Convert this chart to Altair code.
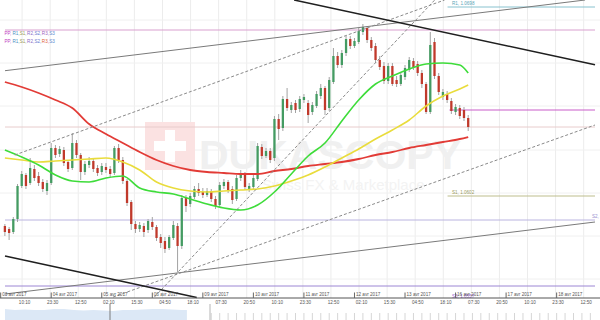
import altair as alt
import pandas as pd

# ---------------- data (time = trading hours since 03 avr 2017 00:00) ----------------
candle_hours = list(range(2, 223, 2))

open_ = [1.0587, 1.05855, 1.0584, 1.05905, 1.0607, 1.06125, 1.06085, 1.06155, 1.0612, 1.0609,
         1.06045, 1.06085, 1.0626, 1.0623, 1.0625, 1.0619, 1.0616, 1.06285, 1.06225, 1.0614,
         1.06175, 1.06195, 1.0616, 1.0614, 1.06165, 1.06155, 1.06135, 1.0626, 1.0620, 1.06095,
         1.0599, 1.0588, 1.05855, 1.0587, 1.0585, 1.0589, 1.05865, 1.05815, 1.05795, 1.0576,
         1.0581, 1.0587, 1.0577, 1.0601, 1.0598, 1.06015, 1.06055, 1.0604, 1.06025, 1.06045,
         1.06005, 1.05975, 1.0607, 1.0609, 1.06055, 1.06005, 1.0611, 1.06125, 1.06055, 1.06065,
         1.06105, 1.06265, 1.0622, 1.06245, 1.0621, 1.06405, 1.0636, 1.06505, 1.0645, 1.06485,
         1.06455, 1.0650, 1.06485, 1.0644, 1.0647, 1.0652, 1.0656, 1.0646, 1.0659, 1.0672,
         1.06675, 1.06735, 1.06805, 1.0677, 1.0679, 1.0684, 1.0686, 1.0680, 1.0677, 1.0670,
         1.0667, 1.06595, 1.0667, 1.0660, 1.0658, 1.06615, 1.0665, 1.06695, 1.0668, 1.06635,
         1.0658, 1.0644, 1.0679, 1.0662, 1.06515, 1.0653, 1.06495, 1.0644, 1.0646, 1.0645,
         1.0641]
high = [1.0588, 1.05865, 1.05915, 1.0608, 1.06145, 1.06135, 1.0621, 1.06175, 1.0614, 1.06105,
        1.0610, 1.06285, 1.06275, 1.0627, 1.06265, 1.0620, 1.06335, 1.0630, 1.06235, 1.06195,
        1.06215, 1.0621, 1.06175, 1.06185, 1.06185, 1.0617, 1.0627, 1.0628, 1.06215, 1.06105,
        1.0600, 1.05895, 1.0589, 1.05885, 1.05905, 1.05915, 1.05875, 1.0583, 1.05815, 1.05825,
        1.05895, 1.05885, 1.06025, 1.06025, 1.06035, 1.0607, 1.06085, 1.0606, 1.0606, 1.06055,
        1.0602, 1.0609, 1.06105, 1.0610, 1.0607, 1.06125, 1.0615, 1.0614, 1.06085, 1.06125,
        1.06285, 1.0628, 1.0626, 1.0626, 1.0642, 1.0643, 1.0652, 1.0656, 1.0649, 1.0650,
        1.0652, 1.0653, 1.0650, 1.0649, 1.06545, 1.0658, 1.0657, 1.06615, 1.0676, 1.0674,
        1.0675, 1.0682, 1.0682, 1.0681, 1.0686, 1.0688, 1.0687, 1.06815, 1.06785, 1.0672,
        1.0669, 1.06685, 1.06685, 1.0662, 1.0664, 1.06675, 1.06715, 1.0671, 1.06695, 1.0665,
        1.0659, 1.0684, 1.0681, 1.06635, 1.06555, 1.06545, 1.0651, 1.0648, 1.06475, 1.06465,
        1.06425]
low = [1.0582, 1.0580, 1.0583, 1.0589, 1.0606, 1.06055, 1.06075, 1.06095, 1.0607, 1.0604,
       1.06025, 1.06075, 1.0621, 1.06215, 1.0617, 1.0614, 1.0615, 1.0621, 1.0610, 1.06125,
       1.0616, 1.0614, 1.0612, 1.06125, 1.06135, 1.06115, 1.06125, 1.06185, 1.0608, 1.0597,
       1.0585, 1.05835, 1.0584, 1.05815, 1.05835, 1.0585, 1.05795, 1.0576, 1.05735, 1.0575,
       1.0580, 1.0564, 1.05755, 1.0594, 1.05965, 1.06005, 1.0602, 1.0601, 1.06015, 1.0599,
       1.05955, 1.05965, 1.06055, 1.06035, 1.0598, 1.05995, 1.06095, 1.0605, 1.0604, 1.0605,
       1.06095, 1.06205, 1.0621, 1.06185, 1.06195, 1.0630, 1.06345, 1.06445, 1.06435, 1.06435,
       1.0644, 1.06485, 1.06385, 1.06425, 1.0646, 1.06505, 1.06425, 1.06445, 1.0658, 1.0666,
       1.0666, 1.0672, 1.06755, 1.0676, 1.0678, 1.06825, 1.06785, 1.06745, 1.06685, 1.0665,
       1.0658, 1.0658, 1.0657, 1.06565, 1.0657, 1.0660, 1.0664, 1.0665, 1.0662, 1.0656,
       1.0643, 1.0643, 1.06605, 1.06525, 1.0650, 1.06485, 1.0643, 1.06425, 1.06405, 1.06395,
       1.06345]
close = [1.0584, 1.05835, 1.05905, 1.0607, 1.0613, 1.0607, 1.0616, 1.0611, 1.06085, 1.06055,
         1.06085, 1.0626, 1.06225, 1.06255, 1.06185, 1.06155, 1.06285, 1.06225, 1.0614, 1.0618,
         1.06195, 1.06155, 1.06135, 1.0617, 1.0615, 1.0613, 1.0626, 1.0620, 1.06095, 1.05985,
         1.0588, 1.05855, 1.05875, 1.0584, 1.05895, 1.05865, 1.0581, 1.05785, 1.05755, 1.05815,
         1.05875, 1.0577, 1.0601, 1.0597, 1.0602, 1.06055, 1.06035, 1.06025, 1.06045, 1.06005,
         1.0597, 1.06075, 1.0609, 1.0605, 1.0600, 1.0611, 1.0613, 1.06065, 1.0607, 1.0611,
         1.0627, 1.0622, 1.06245, 1.0620, 1.06405, 1.06355, 1.06505, 1.0646, 1.06475, 1.0645,
         1.06505, 1.06515, 1.06425, 1.06475, 1.0653, 1.0656, 1.0645, 1.0660, 1.0672, 1.06675,
         1.06735, 1.06805, 1.0677, 1.06795, 1.06845, 1.06865, 1.0680, 1.0676, 1.0670, 1.06665,
         1.06595, 1.0667, 1.0658, 1.0658, 1.06625, 1.0666, 1.0670, 1.06665, 1.06635, 1.0658,
         1.0644, 1.06775, 1.0662, 1.0654, 1.0654, 1.0650, 1.06445, 1.06465, 1.0642, 1.0641,
         1.06365]

ma_hours = list(range(2, 219, 8)) + [222]
ma_slow = [1.0659, 1.06565, 1.06535, 1.0650, 1.0646, 1.0638, 1.0633, 1.06285, 1.0624, 1.0620,
           1.0617, 1.0615, 1.0614, 1.06135, 1.0613, 1.0613, 1.06145, 1.06155, 1.0617, 1.0618,
           1.0619, 1.06205, 1.06225, 1.0624, 1.0626, 1.06275, 1.0629, 1.06305, 1.06315]
ma_mid = [1.0621, 1.0620, 1.0619, 1.06195, 1.0620, 1.06205, 1.0621, 1.0619, 1.0615, 1.0609,
          1.0606, 1.06045, 1.0604, 1.06045, 1.0605, 1.06055, 1.0607, 1.06095, 1.06125, 1.06165,
          1.0621, 1.06255, 1.06305, 1.0635, 1.0640, 1.0647, 1.0652, 1.06555, 1.06575]
ma_fast = [1.0625, 1.06215, 1.06175, 1.06125, 1.06095, 1.0609, 1.0611, 1.0612, 1.0606, 1.0604,
           1.0603, 1.06005, 1.0598, 1.0596, 1.0595, 1.05975, 1.0604, 1.0613, 1.0622, 1.06285,
           1.06395, 1.0650, 1.0658, 1.0662, 1.06655, 1.0668, 1.06685, 1.06675, 1.06635]

date_hours = [0, 24, 48, 72, 96, 120, 144, 168, 192, 216, 240, 264]
date_labels = ["03 avr 2017", "04 avr 2017", "05 avr 2017", "06 avr 2017", "09 avr 2017",
               "10 avr 2017", "11 avr 2017", "12 avr 2017", "13 avr 2017", "16 avr 2017",
               "17 avr 2017", "18 avr 2017"]
time_hours = [10.17, 23.5, 36.83, 50.17, 63.5, 76.83, 90.17, 103.5, 116.83, 130.17, 143.5,
              156.83, 170.17, 183.5, 196.83, 210.17, 223.5, 236.83, 250.17, 263.5, 276.83]
time_labels = ["10:10", "23:30", "12:50", "02:10", "15:30", "04:50", "18:10", "07:30", "20:50",
               "10:10", "23:30", "12:50", "02:10", "15:30", "04:50", "18:10", "07:30", "20:50",
               "10:10", "23:30", "12:50"]

X0, X1 = 2.0545, 282.21
P0, P1 = 1.0551, 1.0700

level_prices = [1.0685, 1.06365, 1.0590, 1.0557, 1.0645, 1.06965, 1.0602]
level_from = [X0, X0, X0, X0, 213.1, 212.2, 212.2]
level_colors = ["#d9a0cf", "#e8cccc", "#bab4e0", "#9c86d4", "#c95cc9", "#88c2cf", "#bdbd8c"]

grid_prices = [1.0690, 1.06685, 1.0647, 1.0625, 1.06035, 1.0582, 1.05605]

trend_kind = ["black", "black", "gray", "gray", "dash", "dash", "dash"]
trend_t1 = [139.33, 2.0545, 2.0545, 2.0545, 6.72, 73.02, 53.42]
trend_p1 = [1.0700, 1.0572, 1.066465, 1.0553, 1.06225, 1.05515, 1.05515]
trend_t2 = [282.21, 93.10, 277.5, 282.21, 210.77, 206.10, 282.21]
trend_p2 = [1.06676, 1.055125, 1.0700, 1.0589, 1.0700, 1.0700, 1.06375]

vol_hours = [2.05, 6.72, 11.39, 16.06, 20.73, 25.40, 30.07, 34.74, 39.41, 44.08,
             48.75, 53.42, 58.09, 62.76, 67.42, 72.09, 76.76, 81.43, 86.10, 88.43]
vol = [11, 10, 10.5, 10, 10, 11, 11, 10, 9.5, 10, 9.5, 9, 10, 10, 10.5, 11, 11, 10.5, 10, 10]
nav_tick_hours = list(range(100, 283, 4))

pivot_words = ["PP,", "R1,", "S1,", "R2,", "S2,", "R3,", "S3"]
pivot_hours = [1.82, 5.56, 9.06, 12.56, 16.06, 19.56, 23.06]
pivot_row_prices = [1.068325, 1.067925]
pivot_colors_1 = ["#c23fc2", "#4a8fc2", "#9a9a55", "#8a6ac8", "#6a7ad0", "#a060c0", "#5a8ad0"]
pivot_colors_2 = ["#c23fc2", "#4a8fc2", "#9a9a55", "#8a6ac8", "#6a7ad0", "#e06040", "#5a8ad0"]

FONT = "Liberation Sans"

# ---------------- scales / helpers ----------------
xs = alt.Scale(domain=[X0, X1], nice=False, zero=False)
ys = alt.Scale(domain=[P0, P1], range=[298, 0], nice=False, zero=False)


def X(f):
    return alt.X(f, type="quantitative", scale=xs, axis=None)


def Y(f):
    return alt.Y(f, type="quantitative", scale=ys, axis=None)


one = pd.DataFrame({"a": [0]})

cdf = pd.DataFrame({"t": candle_hours, "o": open_, "h": high, "l": low, "c": close})
madf = pd.DataFrame({"t": ma_hours, "slow": ma_slow, "mid": ma_mid, "fast": ma_fast})
lvl = pd.DataFrame({"p": level_prices, "t0": level_from, "t1": [X1] * len(level_prices),
                    "col": level_colors})
tr = pd.DataFrame({"kind": trend_kind, "t1": trend_t1, "p1": trend_p1,
                   "t2": trend_t2, "p2": trend_p2})
ddf = pd.DataFrame({"t": date_hours, "label": date_labels})
tdf = pd.DataFrame({"t": time_hours, "label": time_labels})
vdf = pd.DataFrame({"t": vol_hours, "v": vol})
ndf = pd.DataFrame({"t": nav_tick_hours})
pv = pd.DataFrame({
    "w": pivot_words * 2,
    "t": pivot_hours * 2,
    "p": [pivot_row_prices[0]] * 7 + [pivot_row_prices[1]] * 7,
    "col": pivot_colors_1 + pivot_colors_2,
})

# ---------------- layers ----------------
vgrid = alt.Chart(tdf).mark_rule(color="#ececec", strokeWidth=1).encode(
    x=X("t"), y=alt.value(0), y2=alt.value(298))
hgrid = alt.Chart(pd.DataFrame({"p": grid_prices})).mark_rule(color="#f0f0f0", strokeWidth=1).encode(
    y=Y("p"), x=alt.value(0), x2=alt.value(600))

wm_sq = alt.Chart(one).mark_rect(color="#fbe2e2").encode(
    x=alt.value(145), x2=alt.value(195), y=alt.value(122), y2=alt.value(170))
wm_c1 = alt.Chart(one).mark_rect(color="#ffffff").encode(
    x=alt.value(165), x2=alt.value(175), y=alt.value(130), y2=alt.value(162))
wm_c2 = alt.Chart(one).mark_rect(color="#ffffff").encode(
    x=alt.value(154), x2=alt.value(186), y=alt.value(141), y2=alt.value(151))
wm_t1 = alt.Chart(one).mark_text(text="DUKASCOPY", font=FONT,
                                 fontSize=41, fontWeight="bold", color="#f0f0f0", align="left",
                                 baseline="alphabetic").encode(x=alt.value(199), y=alt.value(169))
wm_t2 = alt.Chart(one).mark_text(text="Swiss FX & Marketplace", font=FONT, fontSize=15,
                                 color="#f3f3f3", align="left", baseline="alphabetic").encode(
    x=alt.value(262), y=alt.value(190))

levels = alt.Chart(lvl).mark_rule(strokeWidth=1).encode(
    x=X("t0"), x2="t1", y=Y("p"), color=alt.Color("col:N", scale=None))

wick = alt.Chart(cdf).mark_rule(color="#a3a3a3", strokeWidth=1).encode(
    x=X("t"), y=Y("l"), y2="h")
body = alt.Chart(cdf).mark_bar(size=2.3).encode(
    x=X("t"), y=Y("o"), y2="c",
    color=alt.condition("datum.c >= datum.o", alt.value("#449b62"), alt.value("#c0392b")))

ma_r = alt.Chart(madf).mark_line(color="#e23b36", strokeWidth=1.8, interpolate="monotone").encode(
    x=X("t"), y=Y("slow"))
ma_y = alt.Chart(madf).mark_line(color="#e9dc3c", strokeWidth=1.6, interpolate="monotone").encode(
    x=X("t"), y=Y("mid"))
ma_g = alt.Chart(madf).mark_line(color="#3edc3a", strokeWidth=1.6, interpolate="monotone").encode(
    x=X("t"), y=Y("fast"))

tr_black = alt.Chart(tr[tr.kind == "black"]).mark_rule(color="#1f1f1f", strokeWidth=1.5).encode(
    x=X("t1"), x2="t2", y=Y("p1"), y2="p2")
tr_gray = alt.Chart(tr[tr.kind == "gray"]).mark_rule(color="#7a7a7a", strokeWidth=1).encode(
    x=X("t1"), x2="t2", y=Y("p1"), y2="p2")
tr_dash = alt.Chart(tr[tr.kind == "dash"]).mark_rule(color="#8a8a8a", strokeWidth=1, strokeDash=[3, 2]).encode(
    x=X("t1"), x2="t2", y=Y("p1"), y2="p2")

lbl_r1 = alt.Chart(one).mark_text(text="R1, 1.0698", font=FONT, fontSize=4.6, color="#5aa6b8",
                                  align="left", baseline="bottom").encode(
    x=alt.value(452), y=alt.value(6))
lbl_s1 = alt.Chart(one).mark_text(text="S1, 1.0602", font=FONT, fontSize=4.6, color="#9a9a60",
                                  align="left", baseline="bottom").encode(
    x=alt.value(452), y=alt.value(195))
lbl_s2 = alt.Chart(one).mark_text(text="S2, 1.0590", font=FONT, fontSize=4.6, color="#9a92d0",
                                  align="left", baseline="bottom").encode(
    x=alt.value(592), y=alt.value(219))
lbl_s3 = alt.Chart(one).mark_text(text="S3, 1.0557", font=FONT, fontSize=4.6, color="#9a5ad0",
                                  align="left", baseline="middle").encode(
    x=alt.value(452), y=alt.value(296.5))

pivots = alt.Chart(pv).mark_text(font=FONT, fontSize=4.6, align="left", baseline="middle").encode(
    x=X("t"), y=Y("p"), text="w:N",
    color=alt.Color("col:N", scale=None))

axis_line = alt.Chart(one).mark_rule(color="#555555", strokeWidth=1).encode(
    x=alt.value(0), x2=alt.value(600), y=alt.value(298))
date_ticks = alt.Chart(ddf).mark_rule(color="#666666", strokeWidth=1).encode(
    x=X("t"), y=alt.value(292.5), y2=alt.value(298))
date_text = alt.Chart(ddf).mark_text(font=FONT, fontSize=4.6, color="#555555", align="left",
                                     baseline="middle", dx=1.5).encode(
    x=X("t"), y=alt.value(294.5), text="label:N")
time_text = alt.Chart(tdf).mark_text(font=FONT, fontSize=4.6, color="#555555", align="center",
                                     baseline="middle", dx=2.5).encode(
    x=X("t"), y=alt.value(302.5), text="label:N")

vol_area = alt.Chart(vdf).mark_area(color="#dce8f6").encode(
    x=X("t"), y=alt.Y("v:Q", scale=alt.Scale(domain=[0, 15], range=[320, 305]), axis=None))
nav_ticks = alt.Chart(ndf).mark_rule(color="#d6d6d6", strokeWidth=1).encode(
    x=X("t"), y=alt.value(313), y2=alt.value(320))
nav_l1 = alt.Chart(one).mark_rule(color="#7a7a7a", strokeWidth=1).encode(
    x=alt.value(110), y=alt.value(304), y2=alt.value(320))
nav_l2 = alt.Chart(one).mark_rule(color="#b5b5b5", strokeWidth=1).encode(
    x=alt.value(210), y=alt.value(304), y2=alt.value(320))

chart = alt.layer(
    vgrid, hgrid, wm_sq, wm_c1, wm_c2, wm_t1, wm_t2, levels,
    wick, body, ma_r, ma_y, ma_g,
    tr_gray, tr_dash, tr_black,
    lbl_r1, lbl_s1, lbl_s2, lbl_s3, pivots,
    vol_area, nav_ticks, nav_l1, nav_l2,
    axis_line, date_ticks, date_text, time_text,
).resolve_scale(y="independent").properties(
    width=600, height=320, padding=0,
    autosize=alt.AutoSizeParams(type="none"),
    background="white",
).configure_view(stroke=None)

chart.save("out.html", embed_options={"renderer": "svg", "actions": False})
